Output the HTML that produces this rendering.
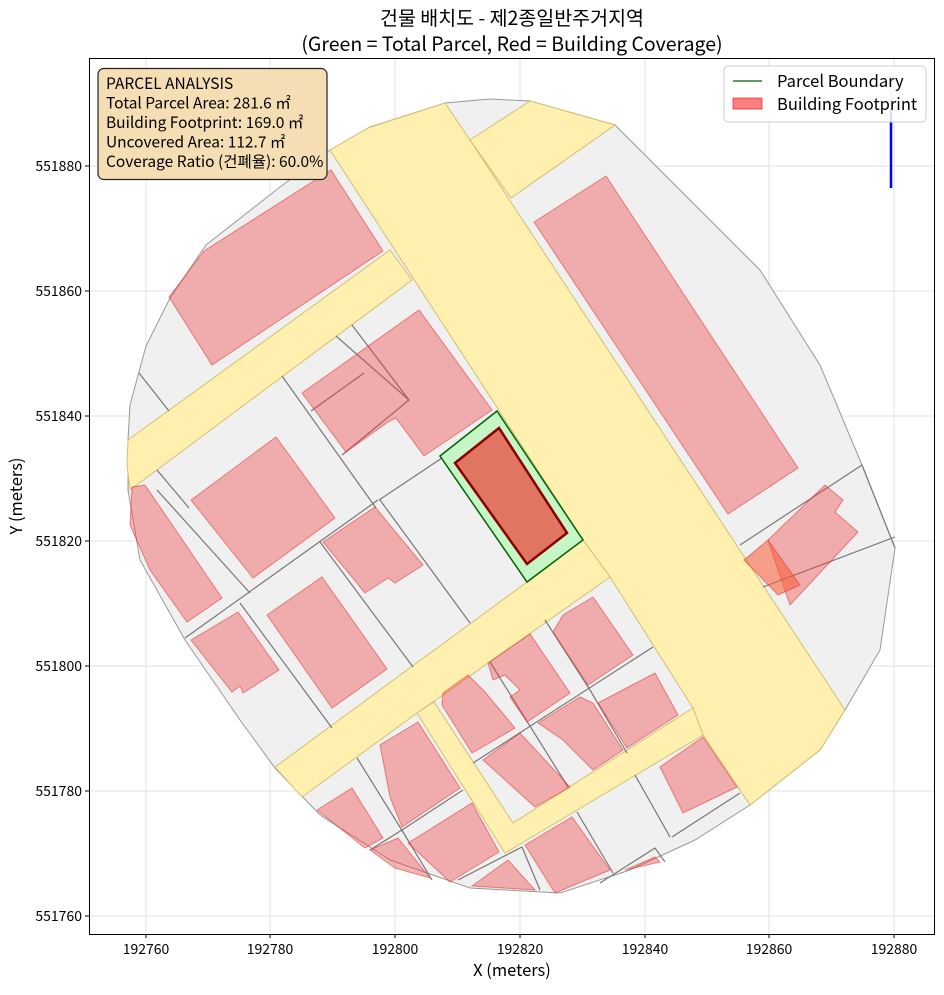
<!DOCTYPE html>
<html><head><meta charset="utf-8"><style>
body{margin:0;background:#fff;}
svg text{font-family:"Noto Sans CJK KR","Liberation Sans",sans-serif;}
</style></head><body>
<svg width="944" height="990" xmlns="http://www.w3.org/2000/svg">
<rect width="944" height="990" fill="#fff"/>
<text x="512" y="25" font-size="19.5" text-anchor="middle" fill="#000">건물 배치도 - 제2종일반주거지역</text>
<text x="512" y="51" font-size="19.5" text-anchor="middle" fill="#000">(Green = Total Parcel, Red = Building Coverage)</text>
<g stroke="#e2e2e2" stroke-width="1">
<line x1="146" y1="58" x2="146" y2="934"/><line x1="270" y1="58" x2="270" y2="934"/><line x1="395" y1="58" x2="395" y2="934"/><line x1="520" y1="58" x2="520" y2="934"/><line x1="645" y1="58" x2="645" y2="934"/><line x1="769" y1="58" x2="769" y2="934"/><line x1="894" y1="58" x2="894" y2="934"/>
<line x1="89" y1="166" x2="935" y2="166"/><line x1="89" y1="291" x2="935" y2="291"/><line x1="89" y1="416" x2="935" y2="416"/><line x1="89" y1="541" x2="935" y2="541"/><line x1="89" y1="666" x2="935" y2="666"/><line x1="89" y1="791" x2="935" y2="791"/><line x1="89" y1="916" x2="935" y2="916"/>
</g>
<polygon points="128,440 130,405 146,346 170,298 206,245 280,187 330,150 370,127 445,103 490,99 530,101 615,125 685,195 760,270 820,365 862,465 895,548 880,650 845,710 820,750 750,805 695,840 630,870 560,893 470,888 390,860 320,815 275,768 240,720 185,640 140,560 128,490" fill="#f0f0f0" stroke="#999" stroke-width="1"/>
<g fill="#fff0b0" stroke="#d2c070" stroke-width="1">
<polygon points="330,150 368,128 445,103 470,140 845,710 820,750 750,805 703,735 693,708 610,577 583,540"/>
<polygon points="470,140 530,101 615,125 511,198"/>
<polygon points="128,440 390,250 412,280 130,490 127,465"/>
<polygon points="275,767 527,582 583,540 610,577 433,702 417,713 302,797"/>
<polygon points="417,713 434,702 513,823 693,708 703,735 505,853"/>
</g>
<g stroke="#777" stroke-width="1.2" fill="none">
<line x1="139" y1="373" x2="169" y2="411"/>
<line x1="282" y1="376" x2="376" y2="508"/>
<line x1="336" y1="336" x2="409" y2="400"/>
<polyline points="352,325 409,400 342,455"/>
<line x1="311" y1="411" x2="364" y2="373"/>
<line x1="157" y1="470" x2="189" y2="508"/>
<line x1="379" y1="500" x2="442" y2="458"/>
<line x1="185" y1="638" x2="378" y2="500"/>
<line x1="320" y1="542" x2="413" y2="667"/>
<line x1="380" y1="500" x2="470" y2="623"/>
<line x1="157" y1="490" x2="250" y2="593"/>
<line x1="240" y1="603" x2="332" y2="728"/>
<polyline points="357,758 403,832 432,880"/>
<line x1="402" y1="830" x2="463" y2="790"/>
<line x1="370" y1="850" x2="402" y2="830"/>
<line x1="490" y1="662" x2="568" y2="787"/>
<polyline points="545,620 590,690 627,753"/>
<line x1="473" y1="763" x2="653" y2="647"/>
<line x1="522" y1="847" x2="540" y2="890"/>
<line x1="458" y1="880" x2="522" y2="847"/>
<line x1="577" y1="812" x2="613" y2="873"/>
<line x1="635" y1="775" x2="670" y2="837"/>
<polyline points="600,883 655,848 665,862"/>
<line x1="672" y1="837" x2="740" y2="793"/>
<polyline points="740,545 862,465 895,548"/>
<line x1="763" y1="587" x2="895" y2="537"/>
</g>
<g fill="rgba(240,60,60,0.38)" stroke="rgba(225,50,50,0.55)" stroke-width="1">
<polygon points="169,297 204,251 331,170 383,251 212,365"/>
<polygon points="302,393 419,310 492,410 424,456 396,418 388,422 346,452"/>
<polygon points="191,500 276,437 335,518 253,578"/>
<polygon points="132,487 145,485 222,598 187,622 150,570 130,525"/>
<polygon points="323,542 375,507 423,565 395,583 388,578 365,593"/>
<polygon points="267,615 322,577 387,669 332,708"/>
<polygon points="191,640 238,612 279,670 243,693 240,686 232,692"/>
<polygon points="534,222 606,176 798,468 728,514"/>
<polygon points="768,540 825,485 843,500 835,512 858,532 790,605"/>
<polygon points="744,560 768,540 800,585 778,595" fill="rgba(250,90,50,0.55)"/>
<polygon points="488,663 530,634 570,693 527,722 510,697 520,690 505,675 493,680"/>
<polygon points="553,632 563,615 593,597 633,655 588,685"/>
<polygon points="443,693 468,675 485,692 515,728 472,753 442,705"/>
<polygon points="538,723 580,697 593,703 623,750 593,770 563,740"/>
<polygon points="598,703 655,673 678,715 627,748"/>
<polygon points="483,760 520,733 570,787 535,807"/>
<polygon points="380,745 418,722 460,788 402,827 390,797"/>
<polygon points="317,810 352,788 383,838 365,848"/>
<polygon points="408,843 472,803 499,852 450,882"/>
<polygon points="525,845 572,817 610,870 555,893"/>
<polygon points="660,767 703,737 737,787 683,813"/>
<polygon points="370,850 398,838 430,878 395,868"/>
<polygon points="472,886 508,860 535,890"/>
<polygon points="625,870 655,857 660,862"/>
</g>
<polygon points="440,456 497,411 583,540 527,582" fill="#c6f5c6" stroke="#006400" stroke-width="1.5"/>
<polygon points="455,463 499,428 567,533 527,564" fill="#e07662" stroke="#8b0000" stroke-width="2.5"/>
<line x1="891" y1="73" x2="891" y2="110" stroke="#b0b8ff" stroke-width="2.5"/>
<line x1="891" y1="110" x2="891" y2="188" stroke="#0000ff" stroke-width="2.5"/>
<rect x="89.5" y="58.5" width="845" height="876" fill="none" stroke="#000" stroke-width="1"/>
<g stroke="#000"><line x1="146" y1="934" x2="146" y2="938"/><line x1="270" y1="934" x2="270" y2="938"/><line x1="395" y1="934" x2="395" y2="938"/><line x1="520" y1="934" x2="520" y2="938"/><line x1="645" y1="934" x2="645" y2="938"/><line x1="769" y1="934" x2="769" y2="938"/><line x1="894" y1="934" x2="894" y2="938"/>
<line x1="85" y1="166" x2="89" y2="166"/><line x1="85" y1="291" x2="89" y2="291"/><line x1="85" y1="416" x2="89" y2="416"/><line x1="85" y1="541" x2="89" y2="541"/><line x1="85" y1="666" x2="89" y2="666"/><line x1="85" y1="791" x2="89" y2="791"/><line x1="85" y1="916" x2="89" y2="916"/></g>
<g font-size="14" text-anchor="middle" fill="#000">
<text x="146" y="954">192760</text><text x="270" y="954">192780</text><text x="395" y="954">192800</text><text x="520" y="954">192820</text><text x="645" y="954">192840</text><text x="769" y="954">192860</text><text x="894" y="954">192880</text>
</g>
<g font-size="14" text-anchor="end" fill="#000">
<text x="82" y="171">551880</text><text x="82" y="296">551860</text><text x="82" y="421">551840</text><text x="82" y="546">551820</text><text x="82" y="671">551800</text><text x="82" y="796">551780</text><text x="82" y="921">551760</text>
</g>
<text x="512" y="976" font-size="16.5" text-anchor="middle">X (meters)</text>
<text x="22" y="496" font-size="16.5" text-anchor="middle" transform="rotate(-90 22 496)">Y (meters)</text>
<rect x="98" y="68.5" width="229" height="111" rx="6" fill="#f5deb3" stroke="#222" stroke-width="1.2"/>
<g font-size="15.5" fill="#000">
<text x="106" y="89">PARCEL ANALYSIS</text>
<text x="106" y="108.5">Total Parcel Area: 281.6 ㎡</text>
<text x="106" y="128">Building Footprint: 169.0 ㎡</text>
<text x="106" y="147.5">Uncovered Area: 112.7 ㎡</text>
<text x="106" y="167">Coverage Ratio (건폐율): 60.0%</text>
</g>
<rect x="724" y="66" width="202" height="56" rx="4" fill="rgba(255,255,255,0.85)" stroke="#ccc"/>
<line x1="733" y1="81" x2="762" y2="81" stroke="#006400" stroke-width="1.2"/>
<rect x="733" y="98" width="29" height="11" fill="rgba(255,0,0,0.5)" stroke="rgba(255,0,0,0.6)"/>
<text x="777" y="87" font-size="16.5">Parcel Boundary</text>
<text x="777" y="110" font-size="16.5">Building Footprint</text>
</svg>
</body></html>
